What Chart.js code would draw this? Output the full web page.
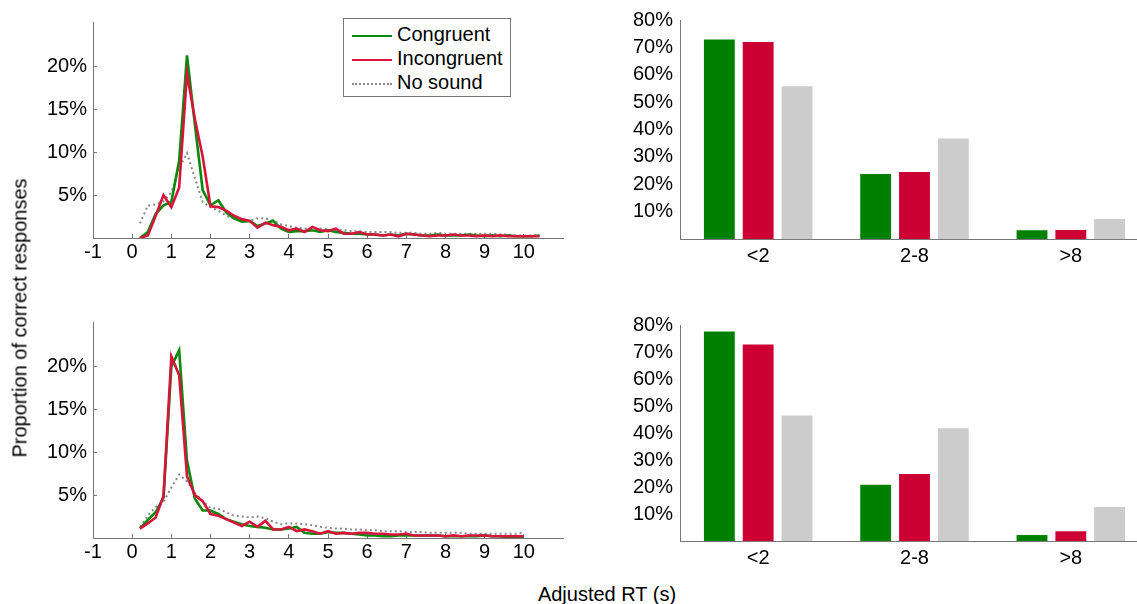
<!DOCTYPE html>
<html>
<head>
<meta charset="utf-8">
<script src="https://cdn.jsdelivr.net/npm/chart.js@4.4.1/dist/chart.umd.min.js"></script>
<style>
  html, body { margin: 0; padding: 0; background: #fff; overflow: hidden; }
  body { width: 1137px; height: 604px; position: relative; font-family: 'Liberation Sans', Arial, sans-serif; color: #000; }
  canvas { position: absolute; }
  .ytitle { position: absolute; left: 20px; top: 318px; transform: translate(-50%, -50%) rotate(-90deg); font-size: 20px; white-space: nowrap; }
  .xtitle { position: absolute; left: 607px; top: 594px; transform: translate(-50%, -50%); font-size: 20px; white-space: nowrap; }
  .legend { position: absolute; left: 343px; top: 18px; width: 166px; height: 77px; border: 1px solid #777; background: #fff; font-size: 20px; }
  .legend div { position: absolute; left: 8px; height: 24px; line-height: 24px; white-space: nowrap; }
  .legend span { display: inline-block; width: 40px; margin-right: 5px; vertical-align: middle; }
</style>
</head>
<body>
<canvas id="lineTop" width="575" height="275" style="left:0;top:0"></canvas>
<canvas id="lineBottom" width="575" height="275" style="left:0;top:300px"></canvas>
<canvas id="barTop" width="575" height="275" style="left:590px;top:0"></canvas>
<canvas id="barBottom" width="575" height="275" style="left:590px;top:300px"></canvas>

<div class="legend">
  <div style="top:3px"><span style="border-top:2.5px solid #0a8a0a"></span>Congruent</div>
  <div style="top:27px"><span style="border-top:2.5px solid #d6143c"></span>Incongruent</div>
  <div style="top:51px"><span style="border-top:2px dotted #8a8a8a"></span>No sound</div>
</div>
<div class="ytitle">Proportion of correct responses</div>
<div class="xtitle">Adjusted RT (s)</div>

<script>
// Colors
const GREEN = '#0a8a0a';
const RED = '#d6143c';
const GREY_LINE = '#8a8a8a';
const BAR_GREEN = '#008000';
const BAR_RED = '#cc0033';
const BAR_GREY = '#cccccc';
const AXIS = '#777';

// ===== DATA =====
// Adjusted RT bins (s)
const rtTop = [0.2, 0.4, 0.6, 0.8, 1.0, 1.2, 1.4, 1.6, 1.8, 2.0, 2.2, 2.4, 2.6, 2.8, 3.0, 3.2, 3.4, 3.6, 3.8, 4.0,
  4.2, 4.4, 4.6, 4.8, 5.0, 5.2, 5.4, 5.6, 5.8, 6.0, 6.2, 6.4, 6.6, 6.8, 7.0, 7.2, 7.4, 7.6, 7.8, 8.0,
  8.2, 8.4, 8.6, 8.8, 9.0, 9.2, 9.4, 9.6, 9.8, 10.0, 10.2, 10.4];
const rtBottom = [0.2, 0.4, 0.6, 0.8, 1.0, 1.2, 1.4, 1.6, 1.8, 2.0, 2.2, 2.4, 2.6, 2.8, 3.0, 3.2, 3.4, 3.6, 3.8, 4.0,
  4.2, 4.4, 4.6, 4.8, 5.0, 5.2, 5.4, 5.6, 5.8, 6.0, 6.2, 6.4, 6.6, 6.8, 7.0, 7.2, 7.4, 7.6, 7.8, 8.0,
  8.2, 8.4, 8.6, 8.8, 9.0, 9.2, 9.4, 9.6, 9.8, 10.0];

// Top panel (% of correct responses)
const congruentTop = [0.0, 0.7, 2.8, 3.8, 4.2, 9.0, 21.3, 13.3, 5.6, 3.8, 4.4, 3.0, 2.3, 1.9, 2.0, 1.4, 1.7, 2.0, 1.1, 0.7,
  0.8, 0.8, 0.9, 0.7, 0.9, 0.7, 0.6, 0.5, 0.5, 0.4, 0.4, 0.3, 0.4, 0.3, 0.5, 0.4, 0.3, 0.3, 0.4, 0.3,
  0.3, 0.3, 0.4, 0.3, 0.2, 0.3, 0.2, 0.3, 0.2, 0.2, 0.2, 0.3];
const incongruentTop = [0.0, 0.3, 2.6, 5.0, 3.6, 5.9, 19.2, 13.9, 9.5, 3.7, 3.6, 3.2, 2.6, 2.2, 2.0, 1.2, 1.8, 1.5, 1.3, 0.9,
  1.1, 0.7, 1.3, 0.9, 0.8, 1.1, 0.5, 0.5, 0.7, 0.4, 0.4, 0.3, 0.4, 0.2, 0.5, 0.4, 0.3, 0.2, 0.3, 0.3,
  0.4, 0.3, 0.3, 0.2, 0.3, 0.2, 0.3, 0.2, 0.2, 0.2, 0.2, 0.2];
const noSoundTop = [1.7, 3.8, 3.9, 4.3, 5.3, 8.2, 9.9, 7.0, 4.2, 3.6, 3.2, 2.6, 2.3, 2.1, 2.0, 2.3, 2.3, 2.0, 1.6, 1.4,
  1.2, 1.1, 1.1, 1.1, 1.0, 0.9, 0.9, 0.8, 0.8, 0.7, 0.7, 0.7, 0.7, 0.6, 0.6, 0.6, 0.5, 0.5, 0.6, 0.5,
  0.5, 0.5, 0.5, 0.5, 0.5, 0.5, 0.4, 0.4, 0.3, 0.3, 0.3, 0.3];

// Bottom panel
const congruentBottom = [1.1, 2.1, 3.0, 4.7, 20.0, 21.9, 9.0, 4.6, 3.2, 3.2, 2.8, 2.2, 1.9, 1.6, 1.4, 1.3, 1.2, 1.0, 1.0, 1.1,
  1.3, 0.6, 0.5, 0.5, 0.7, 0.6, 0.6, 0.5, 0.4, 0.3, 0.3, 0.2, 0.2, 0.3, 0.3, 0.3, 0.3, 0.3, 0.3, 0.2,
  0.2, 0.2, 0.2, 0.2, 0.3, 0.2, 0.2, 0.1, 0.1, 0.1];
const incongruentBottom = [1.1, 1.7, 2.4, 4.9, 21.2, 19.0, 7.2, 5.0, 4.3, 2.8, 2.6, 2.2, 1.8, 1.4, 1.9, 1.3, 2.0, 1.0, 1.0, 1.3,
  0.8, 1.0, 0.8, 0.5, 0.8, 0.5, 0.6, 0.5, 0.6, 0.6, 0.5, 0.5, 0.4, 0.4, 0.5, 0.3, 0.3, 0.3, 0.3, 0.2,
  0.3, 0.2, 0.3, 0.3, 0.3, 0.2, 0.2, 0.2, 0.2, 0.2];
const noSoundBottom = [1.3, 2.6, 3.6, 4.2, 5.9, 7.4, 6.6, 5.3, 4.3, 3.5, 3.4, 3.0, 2.6, 2.5, 2.4, 2.5, 2.3, 1.9, 1.6, 1.7,
  1.7, 1.6, 1.5, 1.3, 1.2, 1.1, 1.1, 1.0, 1.0, 0.9, 0.9, 0.8, 0.8, 0.8, 0.7, 0.7, 0.7, 0.6, 0.6, 0.6,
  0.6, 0.6, 0.5, 0.5, 0.5, 0.5, 0.5, 0.5, 0.5, 0.6];

// Bar panels: share of responses per RT range
const rtRanges = ['<2', '2-8', '>8'];
const barCongruentTop = [72.9, 23.7, 3.2];
const barIncongruentTop = [72.0, 24.5, 3.3];
const barNoSoundTop = [55.8, 36.7, 7.3];
const barCongruentBottom = [77.6, 20.8, 2.2];
const barIncongruentBottom = [72.8, 24.8, 3.6];
const barNoSoundBottom = [46.5, 41.8, 12.6];

// ===== DEFAULTS =====
Chart.defaults.font.family = "'Liberation Sans', Arial, sans-serif";
Chart.defaults.font.size = 20;
Chart.defaults.color = '#000';
Chart.defaults.animation = false;

function toPoints(xs, ys) {
  return xs.map((x, i) => ({ x: x, y: ys[i] }));
}

function fixSize(prop, px) {
  return (scale) => { scale[prop] = px; };
}

function lineChart(id, xs, cong, incong, none, padTop, xHeight) {
  new Chart(document.getElementById(id), {
    type: 'line',
    data: {
      datasets: [
        { label: 'Incongruent', data: toPoints(xs, incong), borderColor: RED, borderWidth: 2.6, order: 1 },
        { label: 'Congruent', data: toPoints(xs, cong), borderColor: GREEN, borderWidth: 2.6, order: 2 },
        { label: 'No sound', data: toPoints(xs, none), borderColor: GREY_LINE, borderWidth: 2, borderDash: [2, 3], order: 3 }
      ]
    },
    options: {
      responsive: false,
      parsing: false,
      elements: { point: { radius: 0 }, line: { tension: 0, fill: false } },
      layout: { padding: { top: padTop, right: 12, left: 0, bottom: 0 } },
      plugins: { legend: { display: false }, tooltip: { enabled: false } },
      scales: {
        x: {
          type: 'linear', min: -1, max: 11,
          afterBuildTicks: (s) => { s.ticks = s.ticks.filter(t => t.value <= 10); },
          afterFit: fixSize('height', xHeight),
          ticks: { stepSize: 1, padding: 6, maxRotation: 0 },
          grid: { drawOnChartArea: false, tickLength: -4, color: AXIS },
          border: { color: AXIS }
        },
        y: {
          min: 0, max: 25.2,
          afterBuildTicks: (s) => { s.ticks = s.ticks.filter(t => t.value > 0 && t.value <= 20); },
          afterFit: fixSize('width', 93),
          ticks: { stepSize: 5, padding: 10, callback: (v) => v + '%' },
          grid: { drawOnChartArea: false, tickLength: -4, color: AXIS },
          border: { color: AXIS }
        }
      }
    }
  });
}

function barChart(id, cong, incong, none, padTop, xHeight) {
  const common = { categoryPercentage: 0.745, barPercentage: 0.795 };
  new Chart(document.getElementById(id), {
    type: 'bar',
    data: {
      labels: rtRanges,
      datasets: [
        Object.assign({ label: 'Congruent', data: cong, backgroundColor: BAR_GREEN }, common),
        Object.assign({ label: 'Incongruent', data: incong, backgroundColor: BAR_RED }, common),
        Object.assign({ label: 'No sound', data: none, backgroundColor: BAR_GREY }, common)
      ]
    },
    options: {
      responsive: false,
      layout: { padding: { top: padTop, right: 16, left: 0, bottom: 0 } },
      plugins: { legend: { display: false }, tooltip: { enabled: false } },
      scales: {
        x: {
          afterFit: fixSize('height', xHeight),
          ticks: { padding: 5, maxRotation: 0 },
          grid: { drawOnChartArea: false, drawTicks: false },
          border: { color: AXIS }
        },
        y: {
          min: 0, max: 80,
          afterBuildTicks: (s) => { s.ticks = s.ticks.filter(t => t.value > 0); },
          afterFit: fixSize('width', 90),
          ticks: { stepSize: 10, padding: 7, callback: (v) => v + '%' },
          grid: { drawOnChartArea: false, drawTicks: false },
          border: { color: AXIS }
        }
      }
    }
  });
}

lineChart('lineTop', rtTop, congruentTop, incongruentTop, noSoundTop, 18, 37);
lineChart('lineBottom', rtBottom, congruentBottom, incongruentBottom, noSoundBottom, 18, 37);
barChart('barTop', barCongruentTop, barIncongruentTop, barNoSoundTop, 20, 36);
barChart('barBottom', barCongruentBottom, barIncongruentBottom, barNoSoundBottom, 25, 34);
</script>
</body>
</html>
